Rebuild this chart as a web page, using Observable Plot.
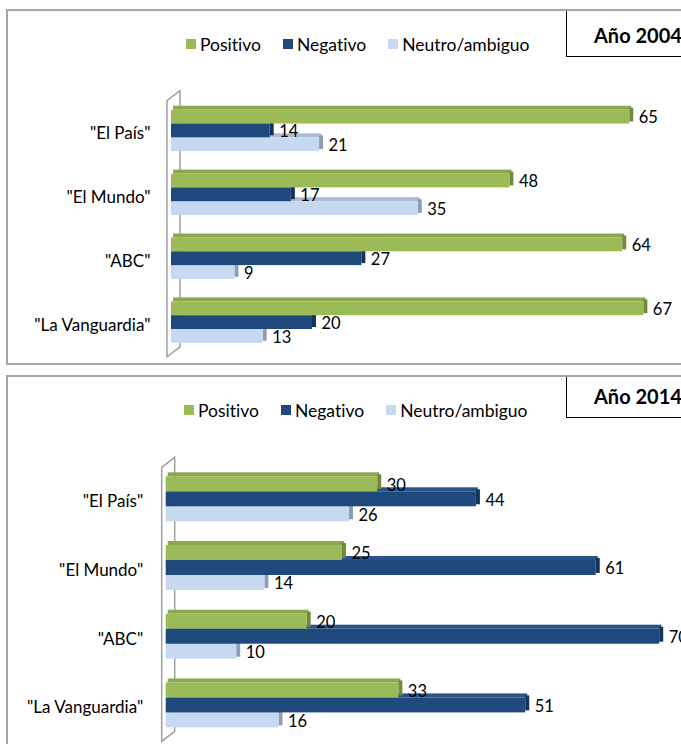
<!DOCTYPE html>
<html><head><meta charset="utf-8">
<script src="https://cdn.jsdelivr.net/npm/d3@7"></script>
<script src="https://cdn.jsdelivr.net/npm/@observablehq/plot@0.6"></script>
<style>
html,body{margin:0;padding:0;background:#fff;}
#page{position:relative;width:681px;height:744px;overflow:hidden;font-family:Lato,"DejaVu Sans",sans-serif;color:#000;background:#fff;font-variant-ligatures:none;font-feature-settings:"liga" 0,"clig" 0;}
#page svg text{font-variant-ligatures:none;font-feature-settings:"liga" 0,"clig" 0;}
.box{position:absolute;left:6px;width:740px;border:2px solid #A6A6A6;box-sizing:border-box;}
.title{position:absolute;left:566px;width:200px;border-left:1px solid #000;border-bottom:1px solid #000;box-sizing:border-box;font-weight:bold;font-size:20px;line-height:20px;}
.title span{position:absolute;left:27px;white-space:nowrap;}
.legend{position:absolute;height:20px;display:flex;align-items:center;font-size:17.5px;white-space:nowrap;}
.legend .item{display:flex;align-items:center;margin-right:22px;}
.legend .sw{width:10px;height:10px;margin-right:4px;}
.chart{position:absolute;left:0;}
</style></head>
<body><div id="page"></div>
<script>
// ---- data ----
const papers = ['"El País"', '"El Mundo"', '"ABC"', '"La Vanguardia"'];
const seriesNames = ["Positivo", "Negativo", "Neutro/ambiguo"];
const positivo2004 = [65, 48, 64, 67];
const negativo2004 = [14, 17, 27, 20];
const neutro2004   = [21, 35, 9, 13];
const positivo2014 = [30, 25, 20, 33];
const negativo2014 = [44, 61, 70, 51];
const neutro2014   = [26, 14, 10, 16];

// ---- styles ----
const frontColors = ["#9BBB59", "#1F497D", "#C6D9F1"];
const topColors   = ["#8AA84E", "#2A5488", "#A9BCD4"];
const sideColors  = ["#71893A", "#15345A", "#8B9FB8"];

const page = document.getElementById("page");

function addBox(top, height) {
  const b = document.createElement("div");
  b.className = "box";
  b.style.top = top + "px";
  b.style.height = height + "px";
  page.appendChild(b);
}
function addTitle(text, top, height, textTop) {
  const t = document.createElement("div");
  t.className = "title";
  t.style.top = top + "px";
  t.style.height = height + "px";
  const s = document.createElement("span");
  s.textContent = text;
  s.style.top = textTop + "px";
  t.appendChild(s);
  page.appendChild(t);
}
function addLegend(left, top) {
  const l = document.createElement("div");
  l.className = "legend";
  l.style.left = left + "px";
  l.style.top = top + "px";
  seriesNames.forEach((name, i) => {
    const it = document.createElement("div");
    it.className = "item";
    const sw = document.createElement("div");
    sw.className = "sw";
    sw.style.background = frontColors[i];
    const tx = document.createElement("span");
    tx.textContent = name;
    it.appendChild(sw); it.appendChild(tx);
    l.appendChild(it);
  });
  page.appendChild(l);
}

function chart({values, h, marginLeft, marginTop, marginBottom, height, paddingInner, tickPadding, top}) {
  const W = 760;
  const pxPerUnit = 7.05;
  const xMax = 80;
  const marginRight = W - marginLeft - xMax * pxPerUnit;
  const B = 3 * h;
  const depth = 4;
  const data = seriesNames.map((s, i) => papers.map((p, j) => ({paper: p, series: s, value: values[i][j]})));
  const marks = [];
  for (let s = 2; s >= 0; s--) {
    const d = data[s];
    marks.push(Plot.barX(d, {x: "value", y: "paper", fill: topColors[s],
      insetTop: s * h, insetBottom: B - s * h - depth, dy: -depth, dx: depth / 2}));
    marks.push(Plot.barX(d, {x1: "value", x2: "value", y: "paper", fill: sideColors[s],
      insetRight: -depth, insetTop: s * h, insetBottom: (2 - s) * h, dy: -depth / 2}));
    marks.push(Plot.barX(d, {x: "value", y: "paper", fill: frontColors[s],
      insetTop: s * h, insetBottom: (2 - s) * h}));
  }
  for (let s = 0; s < 3; s++) {
    marks.push(Plot.text(data[s], {x: "value", y: "paper", text: d => String(d.value),
      dx: 9, dy: (s - 1) * h + 1, textAnchor: "start", fontSize: 16.5, fill: "#000"}));
  }
  marks.push(Plot.axisY({tickSize: 0, tickPadding, fontSize: 17, dy: 2.5, label: null}));
  const svg = Plot.plot({
    width: W, height, marginLeft, marginRight, marginTop, marginBottom,
    x: {domain: [0, xMax], axis: null},
    y: {domain: papers, paddingInner, paddingOuter: 0, round: false, axis: null},
    style: {fontFamily: "Lato, sans-serif", fontSize: "17px", background: "transparent", maxWidth: "none", overflow: "visible", color: "#000"},
    marks
  });
  // 3-D side wall, positioned from the library's scales
  const x0 = svg.scale("x").apply(0);
  const [yTop, yBot] = svg.scale("y").range;
  const fx = x0 - 4, bx = x0 + 9, off = 10;
  const ft = yTop - 9, fb = yBot + 14;
  const path = document.createElementNS("http://www.w3.org/2000/svg", "path");
  path.setAttribute("d", `M${fx},${ft}L${fx},${fb}L${bx},${fb - off}L${bx},${ft - off}Z`);
  path.setAttribute("fill", "#fff");
  path.setAttribute("stroke", "#A0A0A0");
  path.setAttribute("stroke-width", "1.5");
  const firstG = svg.querySelector("g, text, rect");
  svg.insertBefore(path, firstG);
  const wrap = document.createElement("div");
  wrap.className = "chart";
  wrap.style.top = top + "px";
  wrap.appendChild(svg);
  page.appendChild(wrap);
}

// ---- 2004 ----
addBox(9, 356);
addTitle("Año 2004", 11, 46, 14);
addLegend(186, 34);
chart({values: [positivo2004, negativo2004, neutro2004], h: 13.8,
  marginLeft: 171, marginTop: 109.7, marginBottom: 27.2, height: 370,
  paddingInner: 0.352, tickPadding: 21, top: 0});

// ---- 2014 ----
addBox(375, 420);
addTitle("Año 2014", 377, 41, 9);
addLegend(184, 400);
chart({values: [positivo2014, negativo2014, neutro2014], h: 15,
  marginLeft: 165.7, marginTop: 106.3, marginBottom: 16.6, height: 374,
  paddingInner: 0.345, tickPadding: 23, top: 370});
</script>
</body></html>
